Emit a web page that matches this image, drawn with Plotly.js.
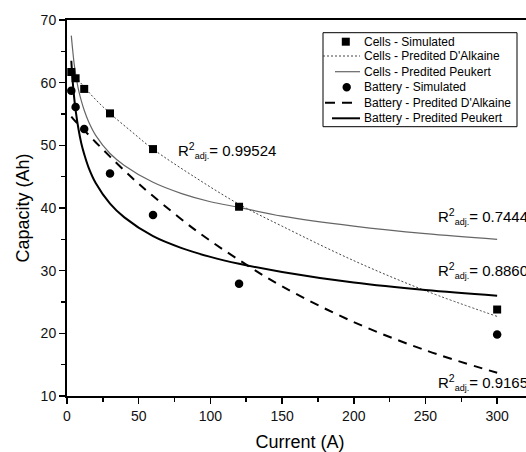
<!DOCTYPE html>
<html>
<head>
<meta charset="utf-8">
<script src="https://cdn.plot.ly/plotly-3.0.1.min.js"></script>
<style>
html, body { margin: 0; padding: 0; overflow: hidden; background: #fff; }
#plot { width: 540px; height: 452px; }
</style>
</head>
<body>
<div id="plot"></div>
<script>
// Simulated data points
const currents = [3, 6, 12, 30, 60, 120, 300];
const cellsSim = [61.7, 60.7, 59.0, 55.1, 49.4, 40.2, 23.8];
const batterySim = [58.7, 56.1, 52.6, 45.5, 38.9, 27.9, 19.8];

// Fitted curves
const peukertCurrents = [3, 4, 5, 6, 8, 10, 12, 15, 20, 30, 40, 60, 80, 100, 120, 150, 200, 250, 300];
const cellsPeukert = [67.5, 65.1, 63.0, 61.4, 58.9, 57.1, 55.6, 53.8, 51.6, 48.7, 46.8, 44.1, 42.3, 41.0, 40.1, 38.7, 37.1, 35.9, 35.0];
const batteryPeukert = [63.5, 60.1, 57.6, 55.6, 52.6, 50.3, 48.6, 46.5, 44.0, 40.7, 38.5, 35.5, 33.6, 32.2, 31.1, 29.8, 28.1, 26.9, 26.0];

const dalkCurrents = [3, 6, 12, 20, 30, 45, 60, 90, 120, 150, 200, 250, 300];
const cellsDAlkaine = [62.0, 61.0, 59.3, 57.3, 55.1, 52.2, 49.4, 44.8, 40.6, 37.1, 31.6, 26.8, 22.7];
const batteryDAlkaine = [54.6, 53.8, 52.4, 50.5, 48.2, 44.9, 41.9, 36.4, 31.7, 27.5, 21.8, 17.3, 13.7];

// Legend and fit labels
const seriesNames = [
  "Cells - Simulated",
  "Cells - Predited D'Alkaine",
  "Cells - Predited Peukert",
  "Battery - Simulated",
  "Battery - Predited D'Alkaine",
  "Battery - Predited Peukert"
];
const r2Values = ["0.99524", "0.74442", "0.88605", "0.91659"];
const r2Positions = [[76.0, 49.2], [257.2, 38.6], [257.2, 30.0], [257.2, 12.2]];

const FONT = "'Liberation Sans', Arial, sans-serif";

const traces = [
  { x: dalkCurrents, y: cellsDAlkaine, mode: 'lines', name: seriesNames[1],
    line: { color: '#444', width: 1, dash: '2px,2px', shape: 'spline' } },
  { x: peukertCurrents, y: cellsPeukert, mode: 'lines', name: seriesNames[2],
    line: { color: '#666', width: 1.2, shape: 'spline' } },
  { x: dalkCurrents, y: batteryDAlkaine, mode: 'lines', name: seriesNames[4],
    line: { color: '#000', width: 2, dash: '9px,7px', shape: 'spline' } },
  { x: peukertCurrents, y: batteryPeukert, mode: 'lines', name: seriesNames[5],
    line: { color: '#000', width: 2, shape: 'spline' } },
  { x: currents, y: cellsSim, mode: 'markers', name: seriesNames[0],
    marker: { symbol: 'square', size: 8, color: '#000' } },
  { x: currents, y: batterySim, mode: 'markers', name: seriesNames[3],
    marker: { symbol: 'circle', size: 8.5, color: '#000' } }
];

// Manual legend (paper coordinates)
const L = 67, PW = 466, B = 396, PH = 376;
const fx = px => (px - L) / PW;
const fy = py => (B - py) / PH;
const rowY = [41.7, 56, 71.7, 87.3, 102.7, 118.3];

const shapes = [
  { type: 'rect', xref: 'paper', yref: 'paper', x0: fx(323), x1: fx(517), y0: fy(126.7), y1: fy(32.7),
    line: { color: '#000', width: 1 }, fillcolor: 'rgba(0,0,0,0)' },
  { type: 'rect', xref: 'paper', yref: 'paper', xsizemode: 'pixel', ysizemode: 'pixel',
    xanchor: fx(345.8), yanchor: fy(rowY[0]), x0: -4, x1: 4, y0: -4, y1: 4,
    line: { width: 0 }, fillcolor: '#000' },
  { type: 'line', xref: 'paper', yref: 'paper', x0: fx(323), x1: fx(360), y0: fy(rowY[1]), y1: fy(rowY[1]),
    line: { color: '#444', width: 1, dash: '2px,2px' } },
  { type: 'line', xref: 'paper', yref: 'paper', x0: fx(335), x1: fx(360), y0: fy(rowY[2]), y1: fy(rowY[2]),
    line: { color: '#666', width: 1.2 } },
  { type: 'circle', xref: 'paper', yref: 'paper', xsizemode: 'pixel', ysizemode: 'pixel',
    xanchor: fx(346.7), yanchor: fy(rowY[3]), x0: -4.2, x1: 4.2, y0: -4.2, y1: 4.2,
    line: { width: 0 }, fillcolor: '#000' },
  { type: 'line', xref: 'paper', yref: 'paper', x0: fx(325), x1: fx(357), y0: fy(rowY[4]), y1: fy(rowY[4]),
    line: { color: '#000', width: 2, dash: '10px,7px' } },
  { type: 'line', xref: 'paper', yref: 'paper', x0: fx(332), x1: fx(360), y0: fy(rowY[5]), y1: fy(rowY[5]),
    line: { color: '#000', width: 2 } }
];

const annotations = [];
seriesNames.forEach((n, i) => {
  annotations.push({ xref: 'paper', yref: 'paper', x: fx(362), y: fy(rowY[i]),
    xanchor: 'left', yanchor: 'middle', text: n, showarrow: false,
    font: { family: FONT, size: 12, color: '#000' } });
});
r2Values.forEach((v, i) => {
  annotations.push({ xref: 'x', yref: 'y', x: r2Positions[i][0], y: r2Positions[i][1],
    xanchor: 'left', yanchor: 'middle', showarrow: false,
    text: 'R<sup>2</sup><sub><span style="font-size:9px">adj.</span></sub>= ' + v,
    font: { family: FONT, size: 15, color: '#000' } });
});

const layout = {
  width: 540, height: 452,
  margin: { l: 67, r: 7, t: 20, b: 56, pad: 0 },
  paper_bgcolor: '#fff', plot_bgcolor: '#fff',
  showlegend: false,
  font: { family: FONT, color: '#000' },
  xaxis: {
    range: [0, 325], tick0: 0, dtick: 50, ticks: 'outside', ticklen: 6, tickwidth: 1.5, tickcolor: '#000',
    minor: { dtick: 25, ticks: 'outside', ticklen: 4, tickwidth: 1.5, tickcolor: '#000', showgrid: false },
    showline: true, linewidth: 2, linecolor: '#000', mirror: true, showgrid: false, zeroline: false,
    tickfont: { family: FONT, size: 14, color: '#111' },
    title: { text: 'Current (A)', font: { family: FONT, size: 18, color: '#000' }, standoff: 15 }
  },
  yaxis: {
    range: [10, 70], tick0: 10, dtick: 10, ticks: 'outside', ticklen: 6, tickwidth: 1.5, tickcolor: '#000',
    minor: { dtick: 5, ticks: 'outside', ticklen: 4, tickwidth: 1.5, tickcolor: '#000', showgrid: false },
    showline: true, linewidth: 2, linecolor: '#000', mirror: true, showgrid: false, zeroline: false,
    tickfont: { family: FONT, size: 14, color: '#111' },
    title: { text: 'Capacity (Ah)', font: { family: FONT, size: 18, color: '#000' }, standoff: 6 }
  },
  shapes: shapes,
  annotations: annotations
};

Plotly.newPlot('plot', traces, layout, { displayModeBar: false, staticPlot: true });
</script>
</body>
</html>
